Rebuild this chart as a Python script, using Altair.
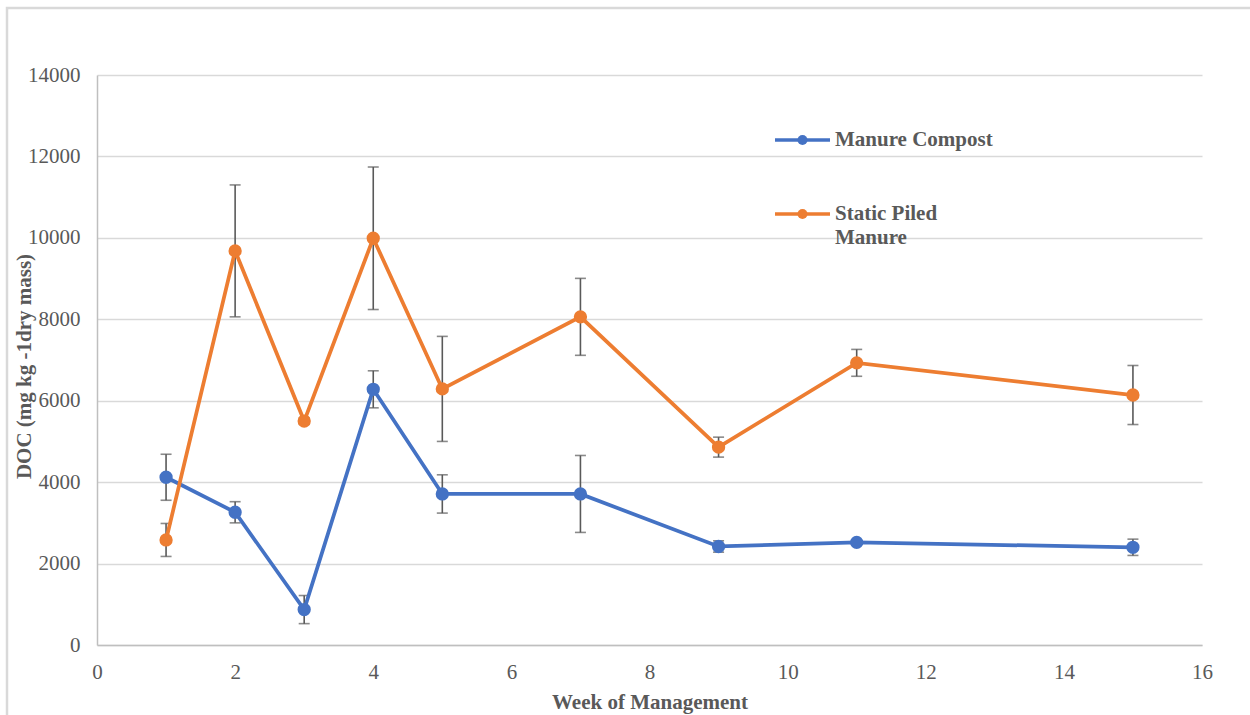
import altair as alt
import pandas as pd

weeks = [1, 2, 3, 4, 5, 7, 9, 11, 15]
series_names = ["Manure Compost", "Static Piled Manure"]
manure_compost = [4120, 3260, 870, 6280, 3710, 3710, 2420, 2520, 2400]
manure_compost_err = [565, 260, 345, 455, 470, 945, 140, 40, 200]
static_piled = [2580, 9680, 5500, 9990, 6290, 8060, 4860, 6930, 6140]
static_piled_err = [405, 1620, 80, 1750, 1290, 945, 245, 330, 725]
x_ticks = [0, 2, 4, 6, 8, 10, 12, 14, 16]
y_ticks = [0, 2000, 4000, 6000, 8000, 10000, 12000, 14000]
colors = ["#4472C4", "#ED7D31"]

rows = []
for name, vals, errs in [(series_names[0], manure_compost, manure_compost_err),
                         (series_names[1], static_piled, static_piled_err)]:
    for w, v, e in zip(weeks, vals, errs):
        rows.append({"week": w, "series": name, "doc": v, "lo": v - e, "hi": v + e})
df = pd.DataFrame(rows)

FONT = "Liberation Serif"
GREY = "#595959"
FS = 21

x_axis = alt.Axis(values=x_ticks, grid=False, title="Week of Management", format="d",
                  titleFontWeight="bold", titleFontSize=FS, titleColor=GREY,
                  titleFont=FONT, titlePadding=9, labelFlush=False,
                  labelFont=FONT, labelFontSize=FS, labelColor=GREY,
                  labelPadding=16, ticks=False, domainColor="#bfbfbf", domainWidth=1.5)
y_axis = alt.Axis(values=y_ticks, grid=True, gridColor="#d9d9d9", gridWidth=1.5, format="d",
                  title="DOC (mg kg -1dry mass)", titleFontWeight="bold",
                  titleFontSize=FS, titleColor=GREY, titleFont=FONT,
                  titleAngle=270, titleX=-73, titleY=291,
                  titleAlign="center", titleBaseline="middle",
                  labelFont=FONT, labelFontSize=FS, labelColor=GREY,
                  labelPadding=17, ticks=False, domainColor="#bfbfbf", domainWidth=1.5)
x_scale = alt.Scale(domain=[0, 16], nice=False)
y_scale = alt.Scale(domain=[0, 14000], nice=False)

def X():
    return alt.X("week:Q", scale=x_scale, axis=x_axis)

def Y(field):
    return alt.Y(field + ":Q", scale=y_scale, axis=y_axis)

color_scale = alt.Scale(domain=series_names, range=colors)

border = alt.Chart(pd.DataFrame({"a": [0]})).mark_rect(
    fill=None, stroke="#d9d9d9", strokeWidth=2.5
).encode(x=alt.value(-90), x2=alt.value(1165), y=alt.value(-67), y2=alt.value(650))

err_rule = alt.Chart(df).mark_rule(color=GREY, strokeWidth=1.6).encode(
    x=X(), y=Y("lo"), y2="hi:Q")
cap_lo = alt.Chart(df).mark_tick(color=GREY, thickness=1.6, size=11, orient="horizontal").encode(
    x=X(), y=Y("lo"))
cap_hi = alt.Chart(df).mark_tick(color=GREY, thickness=1.6, size=11, orient="horizontal").encode(
    x=X(), y=Y("hi"))

lines = alt.Chart(df).mark_line(strokeWidth=3.75).encode(
    x=X(), y=Y("doc"),
    color=alt.Color("series:N", scale=color_scale, legend=None),
    order=alt.Order("week:Q"))

points = alt.Chart(df).mark_circle(size=177, opacity=1).encode(
    x=X(), y=Y("doc"),
    color=alt.Color("series:N", scale=color_scale, legend=None))

# legend (drawn manually, inside the plot area, top right)
leg_df = pd.DataFrame({"series": series_names})
legend_layers = []
leg_rows = [65, 139]
for i, name in enumerate(series_names):
    d = leg_df[leg_df.series == name]
    yv = leg_rows[i]
    legend_layers.append(alt.Chart(d).mark_rule(strokeWidth=3.5, color=colors[i]).encode(
        x=alt.value(678), x2=alt.value(733), y=alt.value(yv)))
    legend_layers.append(alt.Chart(d).mark_circle(size=100, opacity=1, color=colors[i]).encode(
        x=alt.value(705.5), y=alt.value(yv)))

def label(row, text, yv):
    return alt.Chart(leg_df.iloc[[row]]).mark_text(
        align="left", baseline="middle", font=FONT, fontSize=FS, fontWeight="bold", color=GREY
    ).encode(x=alt.value(738), y=alt.value(yv), text=alt.value(text))

lab1 = label(0, "Manure Compost", leg_rows[0])
lab2 = label(1, "Static Piled", leg_rows[1])
lab3 = label(1, "Manure", leg_rows[1] + 24)

chart = alt.layer(border, err_rule, cap_lo, cap_hi, lines, points,
                  *legend_layers, lab1, lab2, lab3).properties(
    width=1105, height=570,
    padding={"left": 97, "top": 75, "right": 48, "bottom": 70},
    autosize=alt.AutoSizeParams(type="none"),
    background="white",
).configure_view(stroke=None).configure_axis(labelFont=FONT, titleFont=FONT)

chart.save("out.html", embed_options={"renderer": "svg", "actions": False})
